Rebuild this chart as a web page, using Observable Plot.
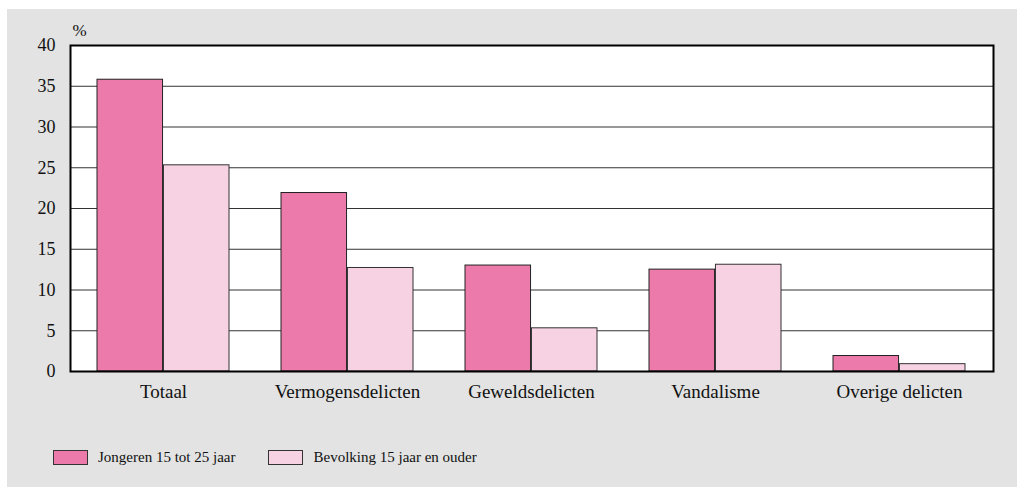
<!DOCTYPE html>
<html>
<head>
<meta charset="utf-8">
<script src="https://cdn.jsdelivr.net/npm/d3@7"></script>
<script src="https://cdn.jsdelivr.net/npm/@observablehq/plot@0.6"></script>
<style>
  html, body { margin: 0; padding: 0; background: #fff; }
  #panel { position: absolute; left: 7px; top: 9px; width: 1010px; height: 478px; background: #E2E3E2; font-family: "Liberation Serif", serif; }
  #chart { position: absolute; left: 0; top: 0; }
  #legend { position: absolute; left: 46px; top: 440px; display: flex; align-items: center; font-size: 15px; color: #111; }
  .item { display: flex; align-items: center; margin-right: 33px; }
  .sw { width: 33px; height: 13px; border: 1px solid #333; margin-right: 10px; }
</style>
</head>
<body>
<div id="panel">
  <div id="chart"></div>
  <div id="legend"></div>
</div>
<script>
const categories = ["Totaal", "Vermogensdelicten", "Geweldsdelicten", "Vandalisme", "Overige delicten"];
const jongeren = [35.8, 21.9, 13.0, 12.5, 1.9];
const bevolking = [25.3, 12.7, 5.3, 13.1, 0.9];
const seriesNames = ["Jongeren 15 tot 25 jaar", "Bevolking 15 jaar en ouder"];
const seriesColors = ["#EC7AAB", "#F7D2E3"];
const yTicks = [0, 5, 10, 15, 20, 25, 30, 35, 40];

const width = 1010, height = 400;
const marginLeft = 63, marginRight = 24, marginTop = 36, marginBottom = 38;
const paddingInner = 0.28, paddingOuter = 0.14;
const plotW = width - marginLeft - marginRight;
const step = plotW / (categories.length - paddingInner + 2 * paddingOuter);
const half = step * (1 - paddingInner) / 2;

const dataJ = categories.map((c, i) => ({category: c, value: jongeren[i]}));
const dataB = categories.map((c, i) => ({category: c, value: bevolking[i]}));

const chart = Plot.plot({
  width, height, marginLeft, marginRight, marginTop, marginBottom,
  style: {fontFamily: "Liberation Serif", fontSize: "19px", background: "transparent", color: "#111"},
  x: {domain: categories, paddingInner, paddingOuter, label: null, tickSize: 0, tickPadding: 13},
  y: {domain: [0, 40], ticks: yTicks, label: null, tickSize: 0, tickPadding: 15},
  marks: [
    Plot.frame({fill: "white"}),
    Plot.ruleY(yTicks.filter(d => d > 0 && d < 40), {stroke: "#333", strokeWidth: 1}),
    Plot.barY(dataJ, {x: "category", y: "value", fill: seriesColors[0], stroke: "#222", strokeWidth: 1, insetLeft: 0, insetRight: half}),
    Plot.barY(dataB, {x: "category", y: "value", fill: seriesColors[1], stroke: "#333", strokeWidth: 1, insetLeft: half, insetRight: 0}),
    Plot.frame({stroke: "#000", strokeWidth: 2}),
    Plot.axisY({ticks: yTicks, tickSize: 0, tickPadding: 15, label: null, fontSize: 18}),
    Plot.text(["%"], {frameAnchor: "top-left", dx: 2, dy: -22, fontSize: 17})
  ]
});
document.getElementById("chart").appendChild(chart);

const legend = document.getElementById("legend");
seriesNames.forEach((name, i) => {
  const item = document.createElement("div");
  item.className = "item";
  const sw = document.createElement("div");
  sw.className = "sw";
  sw.style.background = seriesColors[i];
  const label = document.createElement("span");
  label.textContent = name;
  item.appendChild(sw);
  item.appendChild(label);
  legend.appendChild(item);
});
</script>
</body>
</html>
